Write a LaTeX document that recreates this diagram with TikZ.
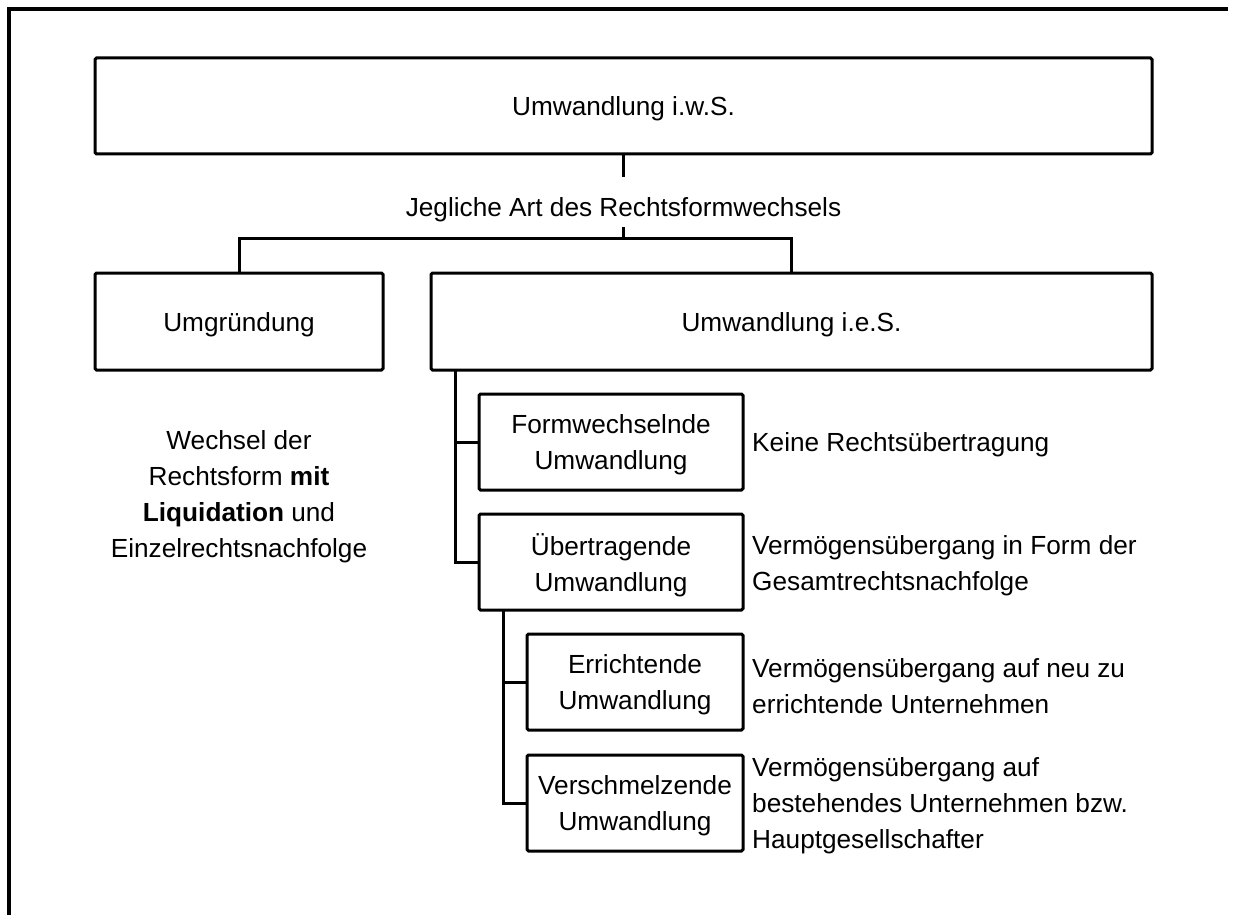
\documentclass[tikz,border=0pt]{standalone}
\usepackage{fontspec}
\setmainfont{Liberation Sans}
\newcommand\diafont{\fontsize{26.2}{36}\selectfont}
\begin{document}
\begin{tikzpicture}[x=1pt,y=-1pt,
  box/.style={draw, line width=3pt, rounded corners=1.5pt, minimum width=#1,
    minimum height=96pt, inner sep=0pt},
  lab/.style={anchor=west, align=left, font=\diafont, inner sep=0pt, yshift=-3pt},
  txt/.style={align=center, font=\diafont, inner sep=0pt, yshift=-3pt},
  conn/.style={line width=3pt},
  frame/.style={line width=4pt}]
\useasboundingbox (0,0) rectangle (1234,915);
% frame
\coordinate (fa) at (8.5,915);
\coordinate (fb) at (8.5,9.5);
\coordinate (fc) at (1228,9.5);
\draw[frame] (fa) -- (fb) -- (fc);
% boxes
\node[box=1057] (top) at (623.5,106) {};
\node[box=288, minimum height=97pt] (umg) at (239,321.5) {};
\node[box=721, minimum height=97pt] (ies) at (791.5,321.5) {};
\node[box=264] (form) at (611,442) {};
\node[box=264] (uebe) at (611,562) {};
\node[box=216] (erri) at (635,682) {};
\node[box=216] (vers) at (635,803) {};
% box texts
\node[txt] (topx) at (top.center) {Umwandlung i.w.S.};
\node[txt] (umgx) at (umg.center) {Umgründung};
\node[txt] (iesx) at (ies.center) {Umwandlung i.e.S.};
\node[txt] (formx) at (form.center) {Formwechselnde\\Umwandlung};
\node[txt] (uebex) at (uebe.center) {Übertragende\\Umwandlung};
\node[txt] (errix) at (erri.center) {Errichtende\\Umwandlung};
\node[txt] (versx) at (vers.center) {Verschmelzende\\Umwandlung};
% texts
\node[txt] (jeg) at (623.5,207) {Jegliche Art des Rechtsformwechsels};
\node[txt] (umgt) at (239,494) {Wechsel der\\Rechtsform \textbf{mit}\\\textbf{Liquidation} und\\Einzelrechtsnachfolge};
\node[lab] (formt) at (752,442) {Keine Rechtsübertragung};
\node[lab] (uebet) at (752,563) {Vermögensübergang in Form der\\Gesamtrechtsnachfolge};
\node[lab] (errit) at (752,683) {Vermögensübergang auf neu zu\\errichtende Unternehmen};
\node[lab] (verst) at (752,803) {Vermögensübergang auf\\bestehendes Unternehmen bzw.\\Hauptgesellschafter};
% connectors
\coordinate (ja) at (623.5,177);
\coordinate (jb) at (623.5,227);
\coordinate (hb) at (623.5,238);
\draw[conn] (top.south) -- (ja);
\draw[conn] (jb) -- (hb);
\draw[conn] (umg.north) |- (hb) -| (ies.north);
\coordinate (t1) at (455,370);
\draw[conn] (t1) |- (form.west);
\draw[conn] (t1) |- (uebe.west);
\coordinate (t2) at (503,610);
\draw[conn] (t2) |- (erri.west);
\draw[conn] (t2) |- (vers.west);
\end{tikzpicture}
\end{document}
